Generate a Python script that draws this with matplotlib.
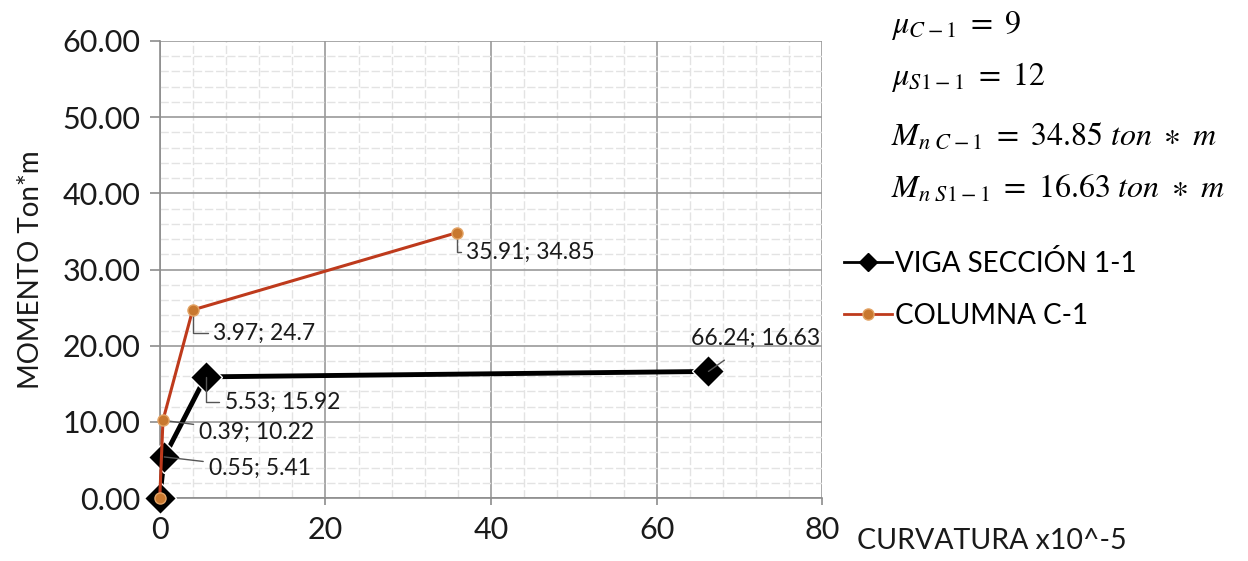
import matplotlib
matplotlib.use("Agg")
import matplotlib.pyplot as plt
from matplotlib.lines import Line2D

# Moment-curvature data
viga_x = [0, 0.55, 5.53, 66.24]
viga_y = [0, 5.41, 15.92, 16.63]
col_x = [0, 0.39, 3.97, 35.91]
col_y = [0, 10.22, 24.7, 34.85]
x_ticks = [0, 20, 40, 60, 80]
y_ticks = [0, 10, 20, 30, 40, 50, 60]

plt.rcParams['font.family'] = ['Lato', 'DejaVu Sans']
plt.rcParams['mathtext.fontset'] = 'stix'

fig = plt.figure(figsize=(12.48, 5.61), dpi=100)
ax = fig.add_axes([0.128, 0.112, 0.531, 0.815])

ax.set_xlim(0, 80)
ax.set_ylim(0, 60)
ax.set_xticks(x_ticks)
ax.set_yticks(y_ticks)
ax.set_yticklabels([f"{v:.2f}" for v in y_ticks])
ax.set_xticks(range(0, 81, 4), minor=True)
ax.set_yticks(range(0, 61, 2), minor=True)
ax.grid(which='major', color='#9a9a9a', linewidth=1.2)
ax.grid(which='minor', color='#e3e3e3', linewidth=1.0, linestyle=(0, (6, 2)))
ax.set_axisbelow(True)
for s in ['top', 'right']:
    ax.spines[s].set_visible(False)
for s in ['left', 'bottom']:
    ax.spines[s].set_color('#8c8c8c')
    ax.spines[s].set_linewidth(1.2)
ax.tick_params(which='major', labelsize=22, length=7, color='#8c8c8c', width=1.2, pad=7,
               labelcolor='#1a1a1a')
ax.tick_params(axis='x', which='major', length=5, pad=8)
ax.tick_params(which='minor', length=0)

ax.set_ylabel("MOMENTO Ton*m", fontsize=20, labelpad=13, color='#1a1a1a')

ax.plot(viga_x, viga_y, color='black', linewidth=3.5, marker='D', markersize=16,
        markerfacecolor='black', markeredgecolor='white', markeredgewidth=1,
        zorder=3, clip_on=False)
ax.plot(col_x, col_y, color='#BE3A1C', linewidth=2.2, marker='o', markersize=8,
        markerfacecolor='#C8782F', markeredgecolor='#E3A466', markeredgewidth=1,
        zorder=4, clip_on=False)

lbl = dict(fontsize=16.5, va='center', ha='left', color='#1a1a1a')
corner = dict(arrowstyle='-', color='#555555', lw=1,
              connectionstyle='angle,angleA=0,angleB=90,rad=0', shrinkA=2, shrinkB=0)
straight = dict(arrowstyle='-', color='#555555', lw=1, shrinkA=2, shrinkB=0)

def label(x, y, dx, dy, style):
    ax.annotate(f"{x:g}; {y:g}", xy=(x, y), xytext=(dx, dy), textcoords='offset points',
                arrowprops=style, **lbl)

label(col_x[3], col_y[3], 6.5, -14, corner)
label(col_x[2], col_y[2], 15, -16.5, corner)
label(viga_x[2], viga_y[2], 14, -18, corner)
label(col_x[1], col_y[1], 26, -9, straight)
label(viga_x[1], viga_y[1], 32, -8, straight)
ax.annotate(f"{viga_x[3]:g}; {viga_y[3]:g}", xy=(viga_x[3], viga_y[3]), xytext=(34, 24),
            textcoords='offset points', ha='center', va='center', fontsize=16.5,
            color='#1a1a1a',
            arrowprops=dict(arrowstyle='-', color='#555555', lw=1, shrinkA=11, shrinkB=0))

fig.text(0.687, 0.036, "CURVATURA x10^-5", fontsize=20.5, va='center', ha='left',
         color='#1a1a1a')

# Legend
handles = [
    Line2D([], [], color='black', linewidth=2, marker='D', markersize=9, markerfacecolor='black'),
    Line2D([], [], color='#BE3A1C', linewidth=2, marker='o', markersize=8,
           markerfacecolor='#C8782F', markeredgecolor='#E3A466'),
]
fig.legend(handles, ["VIGA SECCIÓN 1-1", "COLUMNA C-1"], loc='upper left',
           bbox_to_anchor=(0.676, 0.555), frameon=False, fontsize=20,
           handlelength=1.75, handletextpad=0.1, labelspacing=0.95, borderaxespad=0,
           borderpad=0)

# Ductility and nominal moment summary
txts = [r"$\mu_{C-1}\ =\ 9$", r"$\mu_{S1-1}\ =\ 12$",
        r"$M_{n\ C-1}\ =\ 34.85\ ton\ \ast\ m$", r"$M_{n\ S1-1}\ =\ 16.63\ ton\ \ast\ m$"]
ys = [0.955, 0.862, 0.758, 0.665]
for t, yy in zip(txts, ys):
    fig.text(0.714, yy, t, fontsize=23, va='center', ha='left')

fig.savefig("out.png", dpi=100, facecolor='white')
